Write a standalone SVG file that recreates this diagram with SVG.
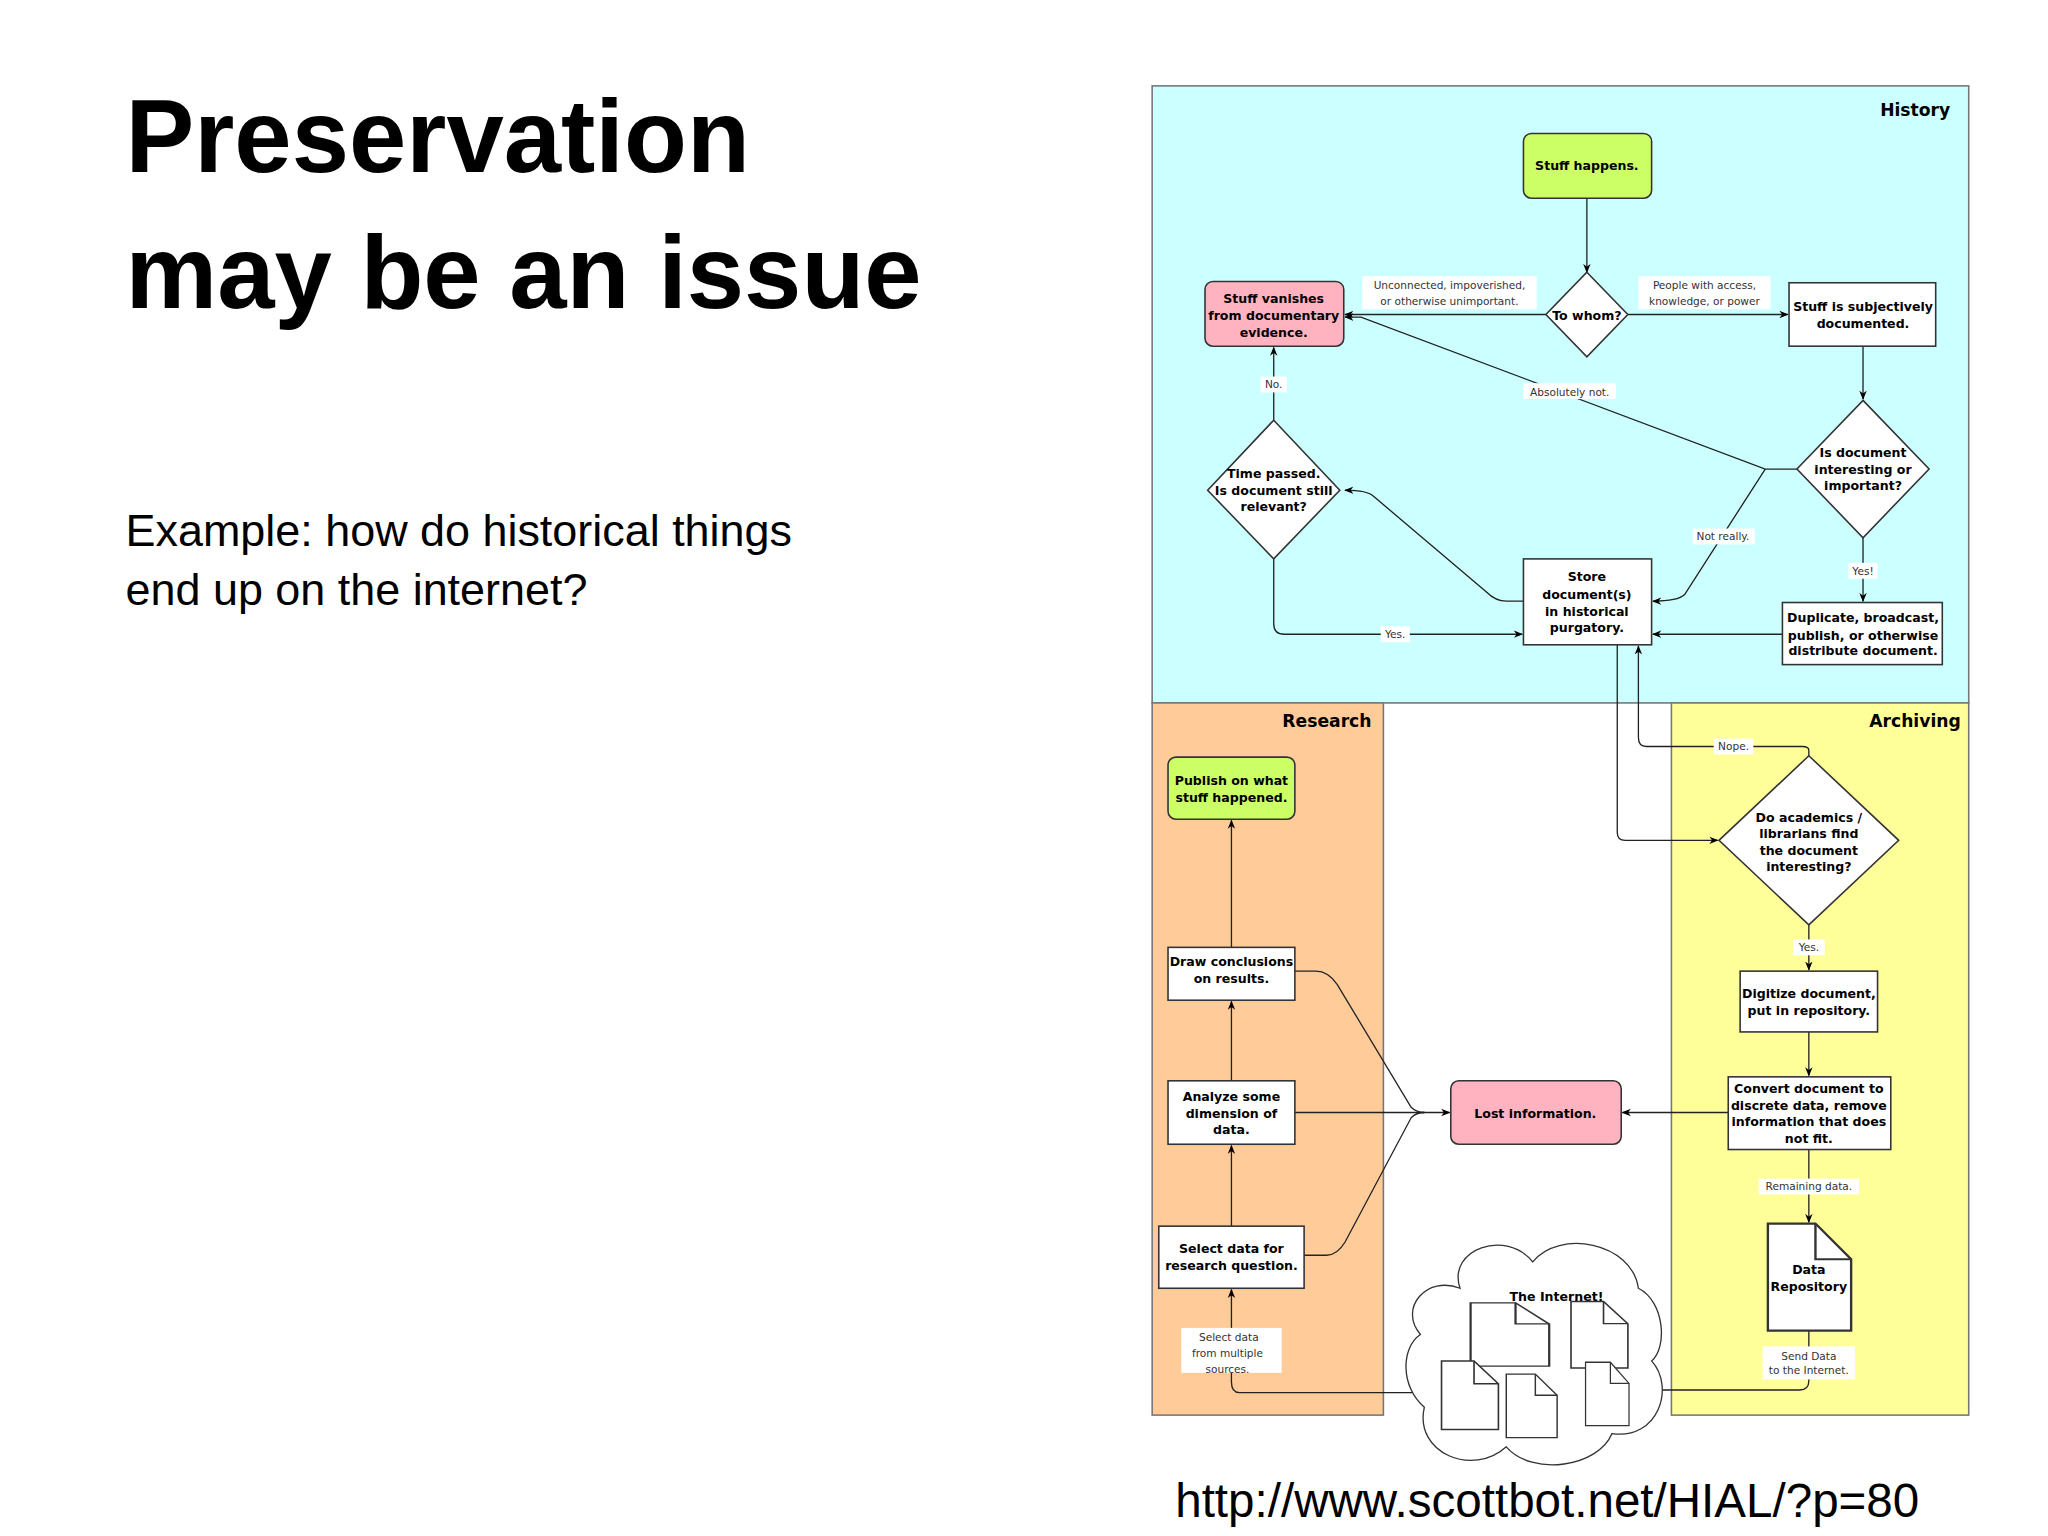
<svg xmlns="http://www.w3.org/2000/svg" width="2048" height="1536" viewBox="0 0 2048 1536">
<style>
.t{font-family:"Liberation Sans",Arial,sans-serif;fill:#000}
.n{font-family:"DejaVu Sans",Verdana,sans-serif;font-weight:bold;font-size:9.5px;text-anchor:middle;fill:#000}
.l{font-family:"DejaVu Sans",Verdana,sans-serif;font-size:8px;text-anchor:middle;fill:#333}
.box{fill:#fff;stroke:#333;stroke-width:1.2}
.grn{fill:#ccff66;stroke:#333;stroke-width:1.2}
.pnk{fill:#ffb3c0;stroke:#333;stroke-width:1.2}
.c{fill:none;stroke:#222;stroke-width:1;marker-end:url(#a)}
.c0{fill:none;stroke:#222;stroke-width:1}
.lb{fill:#fff}
.pt{font-family:"DejaVu Sans",Verdana,sans-serif;font-weight:bold;font-size:13px;text-anchor:end;fill:#000}
</style>
<defs>
<marker id="a" viewBox="0 0 10 10" refX="9" refY="5" markerWidth="7" markerHeight="7" orient="auto"><path d="M0,1 L10,5 L0,9 L3,5 Z" fill="#000"/></marker>
<g id="doc"><path d="M0,0 H20 L35,16 V48 H0 Z" fill="#fff" stroke="#333" stroke-width="1"/><path d="M20,0 V16 H35" fill="none" stroke="#333" stroke-width="1"/></g>
</defs>
<rect width="2048" height="1536" fill="#fff"/>
<g transform="scale(1.32129)">
<g id="title">
<text class="t" x="95" y="130" font-size="78" font-weight="bold">Preservation</text>
<text class="t" x="95" y="233" font-size="78" font-weight="bold">may be an issue</text>
<text class="t" x="95" y="413" font-size="34" fill="#222">Example: how do historical things</text>
<text class="t" x="95" y="458" font-size="34" fill="#222">end up on the internet?</text>
<text class="t" x="1171" y="1148" font-size="36" text-anchor="middle" fill="#111">http://www.scottbot.net/HIAL/?p=80</text>
</g>
<g id="panels">
<rect x="872" y="65" width="618" height="467" fill="#ccffff" stroke="#777" stroke-width="1.2"/>
<rect x="872" y="532" width="175" height="539" fill="#ffcc99" stroke="#777" stroke-width="1.2"/>
<rect x="1265" y="532" width="225" height="539" fill="#ffff99" stroke="#777" stroke-width="1.2"/>
<text class="pt" x="1476" y="88">History</text>
<text class="pt" x="1038" y="550">Research</text>
<text class="pt" x="1484" y="550">Archiving</text>
</g>
<g id="connectors">
<path class="c" d="M1201,150 V206"/>
<path class="c" d="M1170,238 H1018"/>
<path class="c" d="M1232,238 H1353"/>
<path class="c" d="M1410,262 V302"/>
<path class="c" d="M1360,355 H1336 L1030,240 H1018"/>
<path class="c" d="M1336,355 L1275,450 Q1270,455 1251,455"/>
<path class="c" d="M1410,407 V455"/>
<path class="c" d="M1349,480 H1251"/>
<path class="c" d="M1153,455 H1140 Q1132,455 1125,448 L1040,376 Q1035,371 1018,371"/>
<path class="c" d="M964,318 V263"/>
<path class="c" d="M964,423 V472 Q964,480 972,480 H1152"/>
<path class="c" d="M1224,488 V630 Q1224,636 1230,636 H1300"/>
<path class="c" d="M1369,572 V568 Q1369,565 1364,565 H1246 Q1240,565 1240,558 V489"/>
<path class="c" d="M1369,700 V734"/>
<path class="c" d="M1369,781 V814"/>
<path class="c" d="M1369,870 V925"/>
<path class="c" d="M1308,842 H1228"/>
<path class="c" d="M1369,1007 V1045 Q1369,1052 1362,1052 H1237"/>
<path class="c" d="M1095,1054 H938 Q932,1054 932,1046 V976"/>
<path class="c" d="M932,928 V867"/>
<path class="c" d="M932,818 V758"/>
<path class="c" d="M932,717 V621"/>
<path class="c0" d="M980,735 H996 Q1005,735 1012,745 L1068,838 Q1072,842 1078,842"/>
<path class="c0" d="M987,950 H1004 Q1012,950 1018,940 L1068,846 Q1072,842 1078,842"/>
<path class="c" d="M980,842 H1097"/>
</g>
<g id="labels">
<rect class="lb" x="1031" y="209" width="132" height="25"/>
<text class="l" x="1097" y="219">Unconnected, impoverished,</text>
<text class="l" x="1097" y="231">or otherwise unimportant.</text>
<rect class="lb" x="1240" y="209" width="100" height="25"/>
<text class="l" x="1290" y="219">People with access,</text>
<text class="l" x="1290" y="231">knowledge, or power</text>
<rect class="lb" x="1153" y="290" width="70" height="12"/>
<text class="l" x="1188" y="300">Absolutely not.</text>
<rect class="lb" x="954" y="285" width="20" height="12"/>
<text class="l" x="964" y="294">No.</text>
<rect class="lb" x="1281" y="400" width="47" height="12"/>
<text class="l" x="1304" y="409">Not really.</text>
<rect class="lb" x="1399" y="426" width="22" height="12"/>
<text class="l" x="1410" y="435">Yes!</text>
<rect class="lb" x="1045" y="474" width="22" height="12"/>
<text class="l" x="1056" y="483">Yes.</text>
<rect class="lb" x="1297" y="559" width="30" height="12"/>
<text class="l" x="1312" y="568">Nope.</text>
<rect class="lb" x="1357" y="711" width="24" height="12"/>
<text class="l" x="1369" y="720">Yes.</text>
<rect class="lb" x="1331" y="892" width="76" height="12"/>
<text class="l" x="1369" y="901">Remaining data.</text>
<rect class="lb" x="1334" y="1019" width="70" height="25"/>
<text class="l" x="1369" y="1029">Send Data</text>
<text class="l" x="1369" y="1040">to the Internet.</text>
<rect class="lb" x="894" y="1005" width="76" height="34"/>
<text class="l" x="930" y="1015">Select data</text>
<text class="l" x="929" y="1027">from multiple</text>
<text class="l" x="929" y="1039">sources.</text>
</g>
<g id="n-stuff-happens"><rect class="grn" x="1153" y="101" width="97" height="49" rx="6"/><text class="n" x="1201" y="129">Stuff happens.</text></g>
<g id="n-to-whom"><path class="box" d="M1201,206 L1232,238 L1201,270 L1170,238 Z"/><text class="n" x="1201" y="242">To whom?</text></g>
<g id="n-vanishes"><rect class="pnk" x="912" y="213" width="105" height="49" rx="6"/><text class="n" x="964" y="229">Stuff vanishes</text><text class="n" x="964" y="242">from documentary</text><text class="n" x="964" y="255">evidence.</text></g>
<g id="n-subjective"><rect class="box" x="1354" y="214" width="111" height="48"/><text class="n" x="1410" y="235">Stuff is subjectively</text><text class="n" x="1410" y="248">documented.</text></g>
<g id="n-interesting"><path class="box" d="M1410,303 L1460,355 L1410,407 L1360,355 Z"/><text class="n" x="1410" y="346">Is document</text><text class="n" x="1410" y="359">interesting or</text><text class="n" x="1410" y="371">important?</text></g>
<g id="n-time-passed"><path class="box" d="M964,318 L1014,371 L964,423 L914,371 Z"/><text class="n" x="964" y="362">Time passed.</text><text class="n" x="964" y="375">Is document still</text><text class="n" x="964" y="387">relevant?</text></g>
<g id="n-store"><rect class="box" x="1153" y="423" width="97" height="65"/><text class="n" x="1201" y="440">Store</text><text class="n" x="1201" y="453">document(s)</text><text class="n" x="1201" y="466">in historical</text><text class="n" x="1201" y="478">purgatory.</text></g>
<g id="n-duplicate"><rect class="box" x="1349" y="456" width="121" height="47"/><text class="n" x="1410" y="471">Duplicate, broadcast,</text><text class="n" x="1410" y="484">publish, or otherwise</text><text class="n" x="1410" y="496">distribute document.</text></g>
<g id="n-academics"><path class="box" d="M1369,572 L1437,636 L1369,700 L1301,636 Z"/><text class="n" x="1369" y="622">Do academics /</text><text class="n" x="1369" y="634">librarians find</text><text class="n" x="1369" y="647">the document</text><text class="n" x="1369" y="659">interesting?</text></g>
<g id="n-digitize"><rect class="box" x="1317" y="735" width="104" height="46"/><text class="n" x="1369" y="755">Digitize document,</text><text class="n" x="1369" y="768">put in repository.</text></g>
<g id="n-convert"><rect class="box" x="1308" y="815" width="123" height="55"/><text class="n" x="1369" y="827">Convert document to</text><text class="n" x="1369" y="840">discrete data, remove</text><text class="n" x="1369" y="852">information that does</text><text class="n" x="1369" y="865">not fit.</text></g>
<g id="n-repository"><use href="#doc" transform="translate(1338,926) scale(1.8,1.69)"/><text class="n" x="1369" y="964">Data</text><text class="n" x="1369" y="977">Repository</text></g>
<g id="n-lost"><rect class="pnk" x="1098" y="818" width="129" height="48" rx="6"/><text class="n" x="1162" y="846">Lost information.</text></g>
<g id="n-publish"><rect class="grn" x="884" y="573" width="96" height="47" rx="6"/><text class="n" x="932" y="594">Publish on what</text><text class="n" x="932" y="607">stuff happened.</text></g>
<g id="n-draw"><rect class="box" x="884" y="717" width="96" height="40"/><text class="n" x="932" y="731">Draw conclusions</text><text class="n" x="932" y="744">on results.</text></g>
<g id="n-analyze"><rect class="box" x="884" y="818" width="96" height="48"/><text class="n" x="932" y="833">Analyze some</text><text class="n" x="932" y="846">dimension of</text><text class="n" x="932" y="858">data.</text></g>
<g id="n-select"><rect class="box" x="877" y="928" width="110" height="47"/><text class="n" x="932" y="948">Select data for</text><text class="n" x="932" y="961">research question.</text></g>
<g id="n-internet">
<path d="M1105,975 C1095,945 1140,930 1160,955 C1180,930 1235,940 1240,975 C1260,985 1262,1020 1250,1030 C1268,1050 1255,1090 1220,1085 C1210,1110 1160,1118 1140,1095 C1115,1118 1070,1100 1078,1065 C1060,1050 1060,1020 1075,1010 C1058,990 1080,965 1105,975 Z" fill="#fff" stroke="#333" stroke-width="1"/>
<text class="n" x="1178" y="985" font-size="14">The Internet!</text>
<use href="#doc" transform="translate(1113,986) scale(1.7,1.0)"/>
<use href="#doc" transform="translate(1189,985) scale(1.23,1.05)"/>
<use href="#doc" transform="translate(1091,1030) scale(1.23,1.08)"/>
<use href="#doc" transform="translate(1140,1040) scale(1.1,1.0)"/>
<use href="#doc" transform="translate(1200,1031) scale(0.94,1.0)"/>
</g>
</g>
</svg>
